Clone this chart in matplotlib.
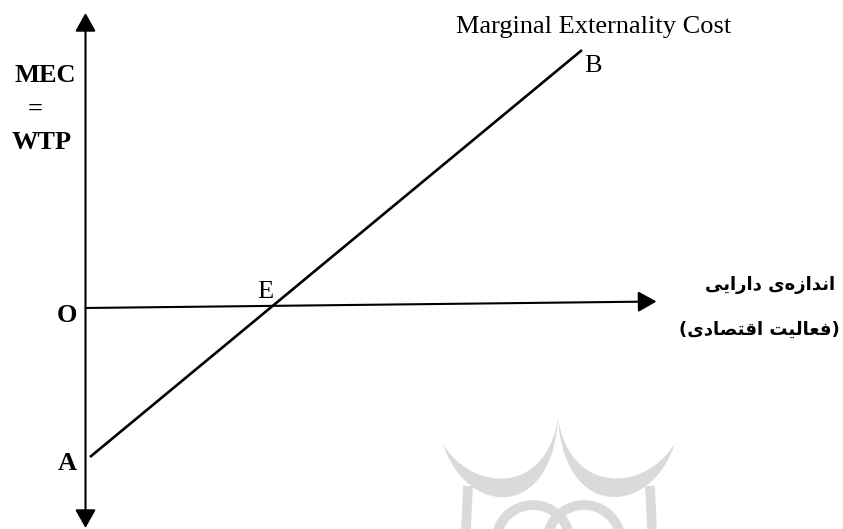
import matplotlib
matplotlib.use("Agg")
import matplotlib.pyplot as plt
from matplotlib.path import Path
from matplotlib.patches import PathPatch, Circle

# ---------------- data ----------------
mec_activity = [4.5, 496.5]        # activity level at A and at B
mec_value = [-149.0, 258.0]        # MEC = WTP at A and at B
x_axis_end = [571.0, 6.5]          # end of the activity axis (slightly rising)
y_axis_range = [-220.0, 295.0]     # bottom / top of the MEC axis
curve_name = "Marginal Externality Cost"
y_label_lines = ["MEC", "=", "WTP"]
x_label_lines = ["اندازه\u200cی دارایی", "(فعالیت اقتصادی)"]
point_names = ["A", "E", "B", "O"]

# ---------------- minimal Persian shaping ----------------
DUAL = set("بپتثجچحخسشصضطظعغفقکگلمنهیئ")
RIGHT = set("اآدذرزژوأإؤ")
FORMS = {
    "ا": ("\uFE8D", "\uFE8E", None, None),
    "د": ("\uFEA9", "\uFEAA", None, None),
    "ز": ("\uFEAF", "\uFEB0", None, None),
    "ر": ("\uFEAD", "\uFEAE", None, None),
    "ن": ("\uFEE5", "\uFEE6", "\uFEE7", "\uFEE8"),
    "ه": ("\uFEE9", "\uFEEA", "\uFEEB", "\uFEEC"),
    "ی": ("\uFBFC", "\uFBFD", "\uFBFE", "\uFBFF"),
    "ف": ("\uFED1", "\uFED2", "\uFED3", "\uFED4"),
    "ع": ("\uFEC9", "\uFECA", "\uFECB", "\uFECC"),
    "ل": ("\uFEDD", "\uFEDE", "\uFEDF", "\uFEE0"),
    "ت": ("\uFE95", "\uFE96", "\uFE97", "\uFE98"),
    "ق": ("\uFED5", "\uFED6", "\uFED7", "\uFED8"),
    "ص": ("\uFEB9", "\uFEBA", "\uFEBB", "\uFEBC"),
}


def shape_rtl(text):
    out = []
    n = len(text)
    for i, ch in enumerate(text):
        if ch == "\u200c":
            continue
        if ch in FORMS:
            prev = text[i - 1] if i > 0 else ""
            nxt = text[i + 1] if i + 1 < n else ""
            to_prev = prev in DUAL
            to_next = (ch in DUAL) and (nxt in DUAL or nxt in RIGHT)
            iso, fin, ini, med = FORMS[ch]
            if to_prev and to_next:
                g = med
            elif to_prev:
                g = fin
            elif to_next:
                g = ini
            else:
                g = iso
            out.append(g)
        else:
            out.append(ch)
    vis = out[::-1]
    mirror = {"(": ")", ")": "("}
    return "".join(mirror.get(c, c) for c in vis)


# ---------------- figure ----------------
W, H = 843, 529
fig = plt.figure(figsize=(W / 100, H / 100), dpi=100)
fig.patch.set_facecolor("white")

# faint decorative watermark (pixel coordinates)
wm = fig.add_axes([0, 0, 1, 1], zorder=0)
wm.set_xlim(0, W)
wm.set_ylim(H, 0)
wm.axis("off")
wm_col = "#dadada"


def crescent(p0, p3, lo1, lo2, hi1, hi2):
    verts = [p0, lo1, lo2, p3, hi2, hi1, p0, p0]
    codes = [Path.MOVETO, Path.CURVE4, Path.CURVE4, Path.CURVE4,
             Path.CURVE4, Path.CURVE4, Path.CURVE4, Path.CLOSEPOLY]
    wm.add_patch(PathPatch(Path(verts, codes), fc=wm_col, ec="none"))


crescent((443, 444), (558, 418), (466, 516), (552, 522), (472, 492), (546, 496))
crescent((558, 418), (675, 443), (564, 522), (652, 516), (570, 496), (646, 492))
wm.add_patch(Circle((533, 542), 37, fill=False, ec=wm_col, lw=7))
wm.add_patch(Circle((584, 542), 37, fill=False, ec=wm_col, lw=7))
wm.plot([468, 466], [486, 529], color=wm_col, lw=7, solid_capstyle="butt")
wm.plot([650, 652], [486, 529], color=wm_col, lw=7, solid_capstyle="butt")

# main axes: origin O at pixel (85.5, 308)
ax = fig.add_axes([0, 0, 1, 1], zorder=1)
ax.set_xlim(-85.5, W - 85.5)
ax.set_ylim(308 - H, 308)
ax.axis("off")
ax.patch.set_alpha(0)

black = "black"
head = "head_length=0.8,head_width=0.45"

# vertical axis (two heads)
ax.annotate("", xy=(0, y_axis_range[1]), xytext=(0, y_axis_range[0]),
            arrowprops=dict(arrowstyle="<|-|>," + head, mutation_scale=14,
                            lw=1.5, color=black, shrinkA=0, shrinkB=0))
# horizontal axis
ax.annotate("", xy=(x_axis_end[0], x_axis_end[1]), xytext=(0, 0),
            arrowprops=dict(arrowstyle="-|>," + head, mutation_scale=14,
                            lw=1.5, color=black, shrinkA=0, shrinkB=0))

# MEC line
ax.plot(mec_activity, mec_value, color=black, lw=1.9, solid_capstyle="butt")

serif = ["Liberation Serif", "DejaVu Serif"]
fs = 19

ax.text(508.5, 281, curve_name, family=serif, fontsize=fs,
        ha="center", va="center")
ax.text(507, 242, point_names[2], family=serif, fontsize=fs,
        ha="center", va="center")
ax.text(179.5, 16, point_names[1], family=serif, fontsize=fs,
        ha="center", va="center")
ax.text(-19, -7, point_names[3], family=serif, fontsize=fs,
        fontweight="bold", ha="center", va="center")
ax.text(-18.5, -155, point_names[0], family=serif, fontsize=fs,
        fontweight="bold", ha="center", va="center")

ax.text(-40, 232.5, y_label_lines[0], family=serif, fontsize=fs,
        fontweight="bold", ha="center", va="center")
ax.text(-50.5, 199, y_label_lines[1], family=serif, fontsize=fs,
        fontweight="bold", ha="center", va="center")
ax.text(-43.5, 165.5, y_label_lines[2], family=serif, fontsize=fs,
        fontweight="bold", ha="center", va="center")

persian_font = ["DejaVu Sans"]
ax.text(685, 23, shape_rtl(x_label_lines[0]), family=persian_font,
        fontsize=13, fontweight="bold", ha="center", va="center")
ax.text(674, -22, shape_rtl(x_label_lines[1]), family=persian_font,
        fontsize=13, fontweight="bold", ha="center", va="center")

fig.savefig("out.png", dpi=100, facecolor="white")
